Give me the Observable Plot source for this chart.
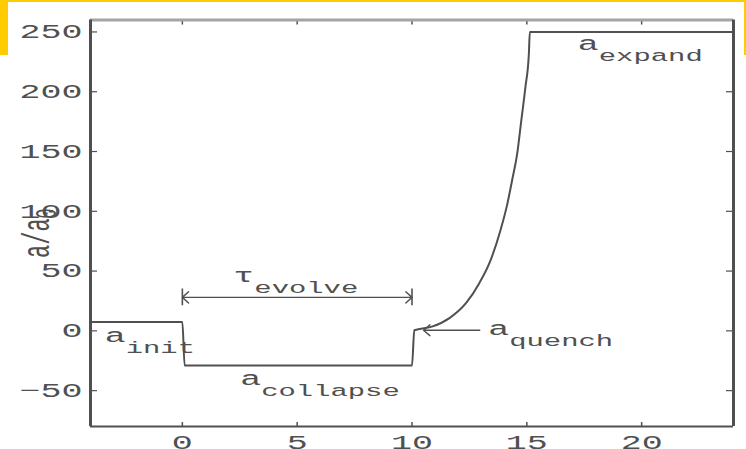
<!DOCTYPE html>
<html>
<head>
<meta charset="utf-8">
<script src="https://cdn.jsdelivr.net/npm/d3@7"></script>
<script src="https://cdn.jsdelivr.net/npm/@observablehq/plot@0.6"></script>
<style>
  html, body { margin: 0; padding: 0; background: #fff; overflow: hidden; }
  #wrap { position: relative; width: 746px; height: 449px; }
  .band { position: absolute; background: #ffcc00; }
</style>
</head>
<body>
<div id="wrap">
  <div id="chart"></div>
  <div class="band" style="left:0;top:0;width:746px;height:2px"></div>
  <div class="band" style="left:0;top:0;width:8px;height:55px"></div>
  <div class="band" style="left:744px;top:0;width:2px;height:55px"></div>
</div>
<script>
// Axis extents and tick values
const xDomain = [-4, 24];
const yDomain = [-80, 260];
const xTicks = [0, 5, 10, 15, 20];
const yTicks = [-50, 0, 50, 100, 150, 200, 250];

// Scale-factor history a(t)/a0: initial, collapse, quench, growth, expanded plateau
const tVals = [-4, 0, 0.1, 10, 10.1, 10.9, 11.63, 12.35, 12.93, 13.42, 13.85, 14.15, 14.36, 14.58, 14.76, 14.94, 15.09, 15.13, 24];
const aVals = [7.5, 7.5, -29, -29, 0.5, 3.7, 10.7, 23.2, 39.9, 59, 84, 106, 126, 148, 176, 204, 232, 250, 250];

// Annotations: main symbol with its subscript
const labelX = [-3.38, 2.22, 2.52, 13.32, 17.22];
const labelY = [-9.1, 41, -45, -3.3, 234.7];
const labelMain = ["a", "τ", "a", "a", "a"];
const labelSub = ["init", "evolve", "collapse", "quench", "expand"];

// Evolution interval (double arrow) and the quench pointer
const tauSpan = [0, 10];
const tauLevel = 28;
const quenchFrom = [12.95, 0.5];
const quenchTo = [10.5, 0.5];

// Vertical axis title
const yTitle = "a/a";
const yTitleSub = "0";
const yTitleAt = 61;
const yTitleSubAt = 94;

const ink = "#505050";
const font = "'Liberation Mono', 'DejaVu Sans Mono', monospace";
const stretch = 1.75; // wide glyphs

const traj = tVals.map((t, i) => ({t, a: aVals[i]}));
const labels = labelMain.map((m, i) => ({x: labelX[i], y: labelY[i], main: m, sub: labelSub[i]}));

const tauArrows = [
  {x1: (tauSpan[0] + tauSpan[1]) / 2, x2: tauSpan[0], y: tauLevel},
  {x1: (tauSpan[0] + tauSpan[1]) / 2, x2: tauSpan[1], y: tauLevel}
];

const chart = Plot.plot({
  width: 746,
  height: 449,
  marginLeft: 90,
  marginRight: 13,
  marginTop: 19.5,
  marginBottom: 23,
  x: {domain: xDomain},
  y: {domain: yDomain},
  style: {fontFamily: font, fontSize: "20px", color: ink, background: "transparent"},
  marks: [
    // tick labels
    Plot.axisX(xTicks, {tickSize: 0, tickPadding: 8, label: null, fontSize: 20}),
    Plot.axisY(yTicks, {tickSize: 0, tickPadding: 8, label: null, fontSize: 20}),
    // inward ticks on all four sides
    Plot.axisX(xTicks, {anchor: "bottom", tickSize: 4, dy: -4, tickFormat: () => "", label: null, strokeWidth: 1.5}),
    Plot.axisX(xTicks, {anchor: "top", tickSize: 4, dy: 4, tickFormat: () => "", label: null, strokeWidth: 1.5}),
    Plot.axisY(yTicks, {anchor: "left", tickSize: 7, dx: 7, tickFormat: () => "", label: null, strokeWidth: 1.2}),
    Plot.axisY(yTicks, {anchor: "right", tickSize: 8, dx: -8, tickFormat: () => "", label: null, strokeWidth: 1.2}),
    // frame
    Plot.ruleY([yDomain[1]], {stroke: "#a4a4a4", strokeWidth: 3}),
    Plot.ruleY([yDomain[0]], {stroke: ink, strokeWidth: 2}),
    Plot.ruleX([xDomain[0]], {stroke: ink, strokeWidth: 3}),
    Plot.ruleX([xDomain[1]], {stroke: ink, strokeWidth: 3}),
    // scale-factor curve
    Plot.line(traj, {x: "t", y: "a", stroke: ink, strokeWidth: 2, curve: "monotone-x"}),
    // τ_evolve interval
    Plot.ruleX(tauSpan, {y1: tauLevel - 7, y2: tauLevel + 7, stroke: ink, strokeWidth: 1.6}),
    Plot.arrow(tauArrows, {x1: "x1", x2: "x2", y1: "y", y2: "y", stroke: ink, strokeWidth: 1.4, headLength: 9, headAngle: 85}),
    // a_quench pointer
    Plot.arrow([{x1: quenchFrom[0], y1: quenchFrom[1], x2: quenchTo[0], y2: quenchTo[1]}],
      {x1: "x1", y1: "y1", x2: "x2", y2: "y2", stroke: ink, strokeWidth: 1.4, headLength: 9, headAngle: 80}),
    // annotation symbols and subscripts
    Plot.text(labels, {x: "x", y: "y", text: "main", textAnchor: "start", lineAnchor: "bottom", fontSize: 20, fill: ink}),
    Plot.text(labels, {x: "x", y: "y", text: "sub", textAnchor: "start", lineAnchor: "bottom", fontSize: 16.5, dx: 21, dy: 11, fill: ink}),
    // vertical axis title
    Plot.text([yTitle], {frameAnchor: "left", y: yTitleAt, text: d => d, rotate: -90, textAnchor: "start", lineAnchor: "bottom", dx: -42, fontSize: 22, fill: ink}),
    Plot.text([yTitleSub], {frameAnchor: "left", y: yTitleSubAt, text: d => d, rotate: -90, textAnchor: "start", lineAnchor: "bottom", dx: -35, fontSize: 16.5, fill: ink})
  ]
});

// widen every glyph horizontally about its own anchor
chart.querySelectorAll("text").forEach(t => {
  const tr = t.getAttribute("transform");
  if (tr && tr.includes("translate(")) {
    t.setAttribute("transform", tr.replace(/(translate\([^)]*\))/, `$1 scale(${stretch},1)`));
  } else {
    const x = parseFloat(t.getAttribute("x")) || 0;
    t.setAttribute("x", 0);
    t.setAttribute("transform", `translate(${x},0) scale(${stretch},1)` + (tr ? " " + tr : ""));
  }
});

document.getElementById("chart").append(chart);
</script>
</body>
</html>
